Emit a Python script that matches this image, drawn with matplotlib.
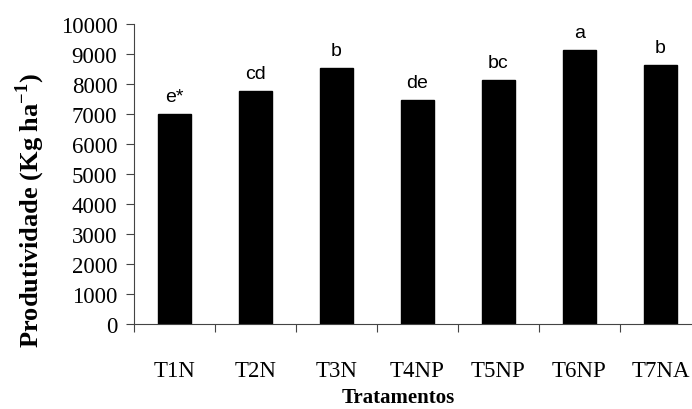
import matplotlib
matplotlib.use("Agg")
import matplotlib.pyplot as plt
import numpy as np

# data
tratamentos = ["T1N", "T2N", "T3N", "T4NP", "T5NP", "T6NP", "T7NA"]
produtividade = [7000, 7770, 8530, 7480, 8150, 9140, 8620]
letras = ["e*", "cd", "b", "de", "bc", "a", "b"]
yticks = list(range(0, 10001, 1000))

plt.rcParams["font.family"] = ["Liberation Serif", "DejaVu Serif"]
plt.rcParams["mathtext.fontset"] = "custom"
plt.rcParams["mathtext.rm"] = "Liberation Serif"
plt.rcParams["mathtext.bf"] = "Liberation Serif:bold"

fig = plt.figure(figsize=(6.92, 4.10), dpi=100)
# the axis runs past the right edge of the picture, like in the original
ax = fig.add_axes([134 / 692, 85 / 410, 567 / 692, 300 / 410])

x = np.arange(len(tratamentos))
ax.bar(x, produtividade, width=0.41, color="black", edgecolor="black")

for xi, v, lab in zip(x, produtividade, letras):
    ax.text(xi, v + 300, lab, ha="center", va="bottom",
            fontsize=14, family="Liberation Sans")

ax.set_xlim(-0.5, len(tratamentos) - 0.5)
ax.set_ylim(0, 10000)
ax.set_yticks(yticks)

# ticks on the boundaries, labels under the bars
ax.set_xticks(np.arange(len(tratamentos)) - 0.5)
ax.set_xticklabels([])
ax.set_xticks(x, minor=True)
ax.set_xticklabels(tratamentos, minor=True)
ax.tick_params(axis="x", which="major", direction="out", length=6, color="#444444")
ax.tick_params(axis="x", which="minor", length=0, pad=26, labelsize=16.5)
ax.tick_params(axis="y", direction="out", length=6, pad=6, labelsize=16.5, color="#444444")

for s in ["top", "right"]:
    ax.spines[s].set_visible(False)
for s in ["left", "bottom"]:
    ax.spines[s].set_color("#444444")

fig.text(30 / 692, 1 - 210 / 410, r"Produtividade (Kg ha$^{\mathbf{-1}}$)",
         rotation=90, ha="center", va="center", fontsize=19, fontweight="bold")
fig.text(398 / 692, 1 - 398 / 410, "Tratamentos",
         ha="center", va="center", fontsize=15, fontweight="bold")

fig.savefig("out.png", dpi=100)
